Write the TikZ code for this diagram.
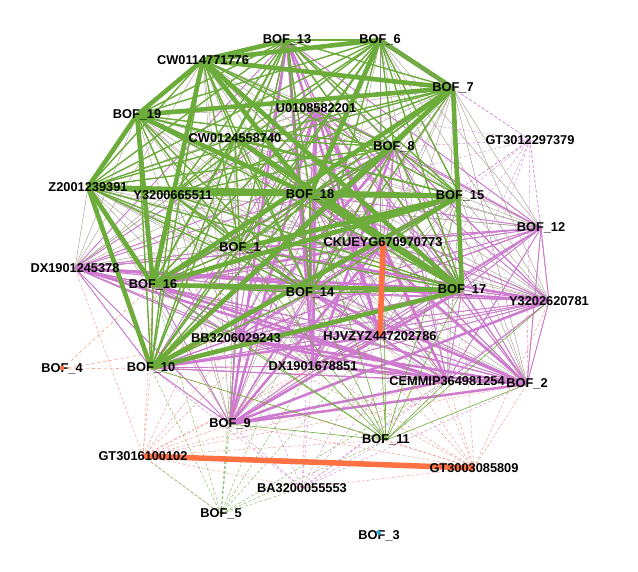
\documentclass[tikz,border=0pt]{standalone}
\usepackage{fontspec}
\setmainfont{Liberation Sans}
\usetikzlibrary{arrows.meta}
\usepackage{xcolor}
\definecolor{edgegrey}{RGB}{162,152,138}
\definecolor{edgepink}{RGB}{206,122,208}
\definecolor{edgegreen}{RGB}{108,172,58}
\definecolor{edgeorange}{RGB}{255,112,66}
\definecolor{edgered}{RGB}{240,122,110}
\definecolor{loopcyan}{RGB}{30,170,220}

\newcommand{\meshpairs}[2]{%
  \foreach \pa [count=\ia] in {#2}{%
    \foreach \pb [count=\ib] in {#2}{%
      \ifnum\ib>\ia \draw[#1] (\pa) -- (\pb); \fi
    }}}

\begin{document}
\begin{tikzpicture}[x=1pt, y=-1pt,
  lbl/.style={font=\fontsize{12.8}{13}\selectfont\bfseries, inner sep=0pt, text=black},
  greyedge/.style={draw=edgegrey, line width=0.4pt},
  pinkedge/.style={draw=edgepink, line width=0.9pt},
  pinkthick/.style={draw=edgepink, line width=2.5pt},
  greenedge/.style={draw=edgegreen, line width=1.4pt},
  greenthick/.style={draw=edgegreen, line width=4.6pt},
  faintred/.style={draw=edgered, line width=0.3pt, densely dashed},
  faintpink/.style={draw=edgepink, line width=0.35pt, densely dashed},
  faintgreen/.style={draw=edgegreen, line width=0.35pt, densely dashed},
  faintorange/.style={draw=edgeorange, line width=0.35pt, dashed},
  greenthin/.style={draw=edgegreen, line width=0.6pt},
  heavy/.style={draw=edgeorange, line width=5.5pt}
]
\useasboundingbox (0,0) rectangle (638,572);
\coordinate (b1) at (240,248);
\coordinate (b2) at (527,384);
\coordinate (b3) at (379,536);
\coordinate (b4) at (62,369);
\coordinate (b5) at (221,514);
\coordinate (b6) at (380,40);
\coordinate (b7) at (453,88);
\coordinate (b8) at (394,147);
\coordinate (b9) at (230,424);
\coordinate (b10) at (151,368);
\coordinate (b11) at (386,440);
\coordinate (b12) at (541,228);
\coordinate (b13) at (287,40);
\coordinate (b14) at (310,293);
\coordinate (b15) at (460,196);
\coordinate (b16) at (153,285);
\coordinate (b17) at (462,290);
\coordinate (b18) at (310,195);
\coordinate (b19) at (137,115);
\coordinate (cwa) at (203,60);
\coordinate (cwb) at (235,138);
\coordinate (u01) at (316,108);
\coordinate (gt1) at (530,140);
\coordinate (z20) at (88,187);
\coordinate (y32a) at (173,195);
\coordinate (ck) at (383,242);
\coordinate (dxa) at (75,268);
\coordinate (y32b) at (549,301);
\coordinate (bb) at (236,338);
\coordinate (hj) at (380,336);
\coordinate (dxb) at (313,366);
\coordinate (ce) at (447,381);
\coordinate (gt2) at (143,456);
\coordinate (gt3) at (474,468);
\coordinate (ba) at (302,488);

% thin grey mesh
\meshpairs{greyedge}{b1,b2,b6,b7,b8,b9,b10,b12,b13,b14,b15,b16,b17,b18,b19,cwa,cwb,u01,z20,y32a,ck,dxa,y32b,bb,hj,dxb,ce}

% pink mesh
\meshpairs{pinkedge}{b13,u01,b8,ck,hj,dxb,ce,b2,y32b,b12,b9,bb,dxa,b14,b17,b1,b16,b10,b18}
\foreach \a/\b in {b13/dxb, b13/b14, u01/b14, u01/dxb, u01/hj, b13/hj, dxa/b17, dxa/y32b, dxa/ce,
  b9/b17, b9/y32b, b9/ce, b9/b2, bb/b2, bb/ce, dxb/b2, b8/b16, b8/b10, b8/dxb, ck/b9, u01/ce,
  b18/b2, b14/b2, b16/ce, b10/hj, u01/b9, b8/bb, b1/y32b, ck/b16, b13/b9}
  \draw[pinkthick] (\a) -- (\b);

% green mesh
\meshpairs{greenedge}{b13,b6,cwa,b7,b19,cwb,z20,y32a,b18,b15,b1,b16,b14,b17,b10,b8}
\foreach \a/\b in {cwa/b19, cwa/b16, cwa/b18, cwa/b7, cwa/b6, cwa/b17, cwa/b13, b19/z20, b19/b16,
  b19/b18, b19/b7, z20/b18, z20/b10, z20/b16, b7/b17, b7/b16, b7/b10, b6/b7, b6/b18, b16/b17,
  b10/b17, b18/b15, b16/b15, b18/b17, b1/b15, y32a/b16, cwb/b17, b10/b15, z20/b15}
  \draw[greenthick] (\a) -- (\b);

% outer nodes
\foreach \b in {b10,b9,b16,bb,b1,dxb,b14,b11,ce,hj,ba,b5,b2,dxa}
  \draw[faintred] (gt2) -- (\b);
\foreach \b in {ce,b2,b11,b17,hj,dxb,b9,ba,bb,b14,y32b,ck,b10}
  \draw[faintred] (gt3) -- (\b);
\foreach \b in {b10,b9,gt2,bb,dxb,b11,b14,b16,b1,ce,ba,hj}
  \draw[faintgreen] (b5) -- (\b);
\foreach \b in {b9,b11,ce,b2,dxb,bb,b10,b14,hj,y32b,b17}
  \draw[faintpink] (ba) -- (\b);
\foreach \b in {b10,b9,b14,b17,b15,ck,b18,b1,b16,bb,dxb,ce,b2,hj,y32b}
  \draw[greenthin] (b11) -- (\b);
\foreach \b in {b7,b8,b15,b12,y32b,b17,u01,b6,b18,ck,b14,ce,b2,hj}
  \draw[faintpink] (gt1) -- (\b);
\foreach \b in {b10,b16,bb}
  \draw[faintorange] (b4) -- (\b);

\draw[heavy] (gt2) -- (gt3);
\draw[heavy] (ck) -- (hj);

\node[lbl] (l1) at (b1) {BOF\_1};
\node[lbl] (l2) at (b2) {BOF\_2};
\node[lbl] (l3) at (b3) {BOF\_3};
\node[lbl] (l4) at (b4) {BOF\_4};
\node[lbl] (l5) at (b5) {BOF\_5};
\node[lbl] (l6) at (b6) {BOF\_6};
\node[lbl] (l7) at (b7) {BOF\_7};
\node[lbl] (l8) at (b8) {BOF\_8};
\node[lbl] (l9) at (b9) {BOF\_9};
\node[lbl] (l10) at (b10) {BOF\_10};
\node[lbl] (l11) at (b11) {BOF\_11};
\node[lbl] (l12) at (b12) {BOF\_12};
\node[lbl] (l13) at (b13) {BOF\_13};
\node[lbl] (l14) at (b14) {BOF\_14};
\node[lbl] (l15) at (b15) {BOF\_15};
\node[lbl] (l16) at (b16) {BOF\_16};
\node[lbl] (l17) at (b17) {BOF\_17};
\node[lbl] (l18) at (b18) {BOF\_18};
\node[lbl] (l19) at (b19) {BOF\_19};
\node[lbl] (lcwa) at (cwa) {CW0114771776};
\node[lbl] (lcwb) at (cwb) {CW0124558740};
\node[lbl] (lu01) at (u01) {U0108582201};
\node[lbl] (lgt1) at (gt1) {GT3012297379};
\node[lbl] (lz20) at (z20) {Z2001239391};
\node[lbl] (ly32a) at (y32a) {Y3200665511};
\node[lbl] (lck) at (ck) {CKUEYG670970773};
\node[lbl] (ldxa) at (dxa) {DX1901245378};
\node[lbl] (ly32b) at (y32b) {Y3202620781};
\node[lbl] (lbb) at (bb) {BB3206029243};
\node[lbl] (lhj) at (hj) {HJVZYZ447202786};
\node[lbl] (ldxb) at (dxb) {DX1901678851};
\node[lbl] (lce) at (ce) {CEMMIP364981254};
\node[lbl] (lgt2) at (gt2) {GT3016100102};
\node[lbl] (lgt3) at (gt3) {GT3003085809};
\node[lbl] (lba) at (ba) {BA3200055553};

\fill[edgeorange] (b4) ++(0,-1) circle (2.2pt);
\fill[loopcyan] (b3) ++(-3,-5) -- ++(5,0) -- ++(-2,5) -- cycle;
\end{tikzpicture}
\end{document}
